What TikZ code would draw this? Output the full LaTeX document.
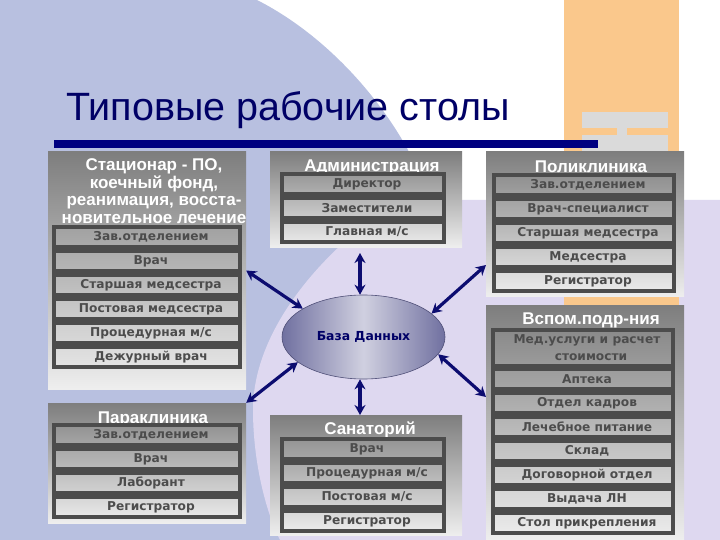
\documentclass[tikz,border=0pt]{standalone}
\usepackage{fontspec}
\usepackage{xcolor}
\usetikzlibrary{arrows.meta,shapes.geometric}
\setmainfont{Liberation Sans}
\newfontfamily\cellfont{DejaVu Sans}
\definecolor{navy}{RGB}{0,0,128}
\definecolor{titleblue}{RGB}{0,0,102}
\definecolor{linkblue}{RGB}{12,12,112}
\definecolor{skyback}{RGB}{184,192,224}
\definecolor{lavback}{RGB}{222,216,240}
\definecolor{orangeback}{RGB}{250,200,140}
\definecolor{squaregray}{RGB}{218,218,218}
\definecolor{framedark}{RGB}{76,76,76}
\definecolor{paneltop}{RGB}{126,126,126}
\definecolor{panelbot}{RGB}{238,238,238}
\definecolor{baseedge}{RGB}{112,112,160}
\definecolor{basemid}{RGB}{208,208,224}
\definecolor{baseline}{RGB}{80,80,120}
\tikzset{
  panelbox/.style={rectangle, inner sep=0pt, top color=paneltop, bottom color=panelbot},
  cellbox/.style={rectangle, draw=framedark, line width=4pt, inner sep=0pt, minimum width=#1, minimum height=20pt,
    text=framedark, font=\cellfont\bfseries\fontsize{12.2}{17}\selectfont, align=center,
    execute at begin node={\hspace*{8pt}}},
  headtext/.style={text=white, inner sep=0pt, align=center, font=\bfseries\fontsize{17}{17.5}\selectfont},
  linkarrow/.style={{Stealth[length=10pt,width=11pt]}-{Stealth[length=10pt,width=11pt]}, line width=3.2pt, draw=linkblue}
}
\begin{document}
\begin{tikzpicture}[x=1pt,y=-1pt]
  \useasboundingbox (0,0) rectangle (720,540);
  % background
  \fill[white] (0,0) rectangle (720,540);
  \fill[skyback] (0,0) -- (257,0) .. controls (320,32) and (375,90) .. (408,150) -- (430,200) -- (430,540) -- (0,540) -- cycle;
  \fill[lavback] (400,200) .. controls (340,236) and (253,320) .. (253,410) .. controls (253,460) and (265,510) .. (280,540) -- (720,540) -- (720,200) -- cycle;
  \fill[orangeback] (564,0) rectangle (679,540);
  \fill[squaregray] (582,112) rectangle (668,152);
  \fill[orangeback] (582,128) rectangle (617,135);
  \fill[orangeback] (627,128) rectangle (668,135);

  \node[text=titleblue, inner sep=0pt, anchor=base west, font=\fontsize{39.5}{42}\selectfont] (heading) at (66,121) {Типовые рабочие столы};
  \fill[navy] (54,140) rectangle (598,148.5);

  % panels
  \node[panelbox, minimum width=198pt, minimum height=237pt] (stac) at (147,270.5) {};
  \node[panelbox, minimum width=192pt, minimum height=95pt] (admin) at (366,199.5) {};
  \node[panelbox, minimum width=198pt, minimum height=144pt] (polik) at (585,224) {};
  \node[panelbox, minimum width=198pt, minimum height=235pt] (vspom) at (585,422.5) {};
  \node[panelbox, minimum width=198pt, minimum height=120pt] (parakl) at (147,463) {};
  \node[panelbox, minimum width=192pt, minimum height=120pt] (sanat) at (366,475) {};

  \node[headtext] (stacTitle) at (154,191) {Стационар - ПО,\\коечный фонд,\\реанимация, восста-\\новительное лечение};
  \node[headtext] (adminTitle) at (372,167) {Администрация};
  \node[headtext] (polikTitle) at (591,167) {Поликлиника};
  \node[headtext] (vspomTitle) at (591,320) {Вспом.подр-ния};
  \node[headtext] (paraklTitle) at (153,419) {Параклиника};
  \node[headtext] (sanatTitle) at (370,430) {Санаторий};

  % stacionar
  \node[cellbox=186pt] (stacA) at (147,237) {Зав.отделением};
  \node[cellbox=186pt] (stacB) at (147,261) {Врач};
  \node[cellbox=186pt] (stacC) at (147,285) {Старшая медсестра};
  \node[cellbox=186pt] (stacD) at (147,309) {Постовая медсестра};
  \node[cellbox=186pt] (stacE) at (147,333) {Процедурная м/с};
  \node[cellbox=186pt] (stacF) at (147,357) {Дежурный врач};

  % administration
  \node[cellbox=162pt] (adminA) at (363,184) {Директор};
  \node[cellbox=162pt] (adminB) at (363,208) {Заместители};
  \node[cellbox=162pt] (adminC) at (363,232) {Главная м/с};

  % polyclinic
  \node[cellbox=180pt] (polikA) at (584,185) {Зав.отделением};
  \node[cellbox=180pt] (polikB) at (584,209) {Врач-специалист};
  \node[cellbox=180pt] (polikC) at (584,233) {Старшая медсестра};
  \node[cellbox=180pt] (polikD) at (584,257) {Медсестра};
  \node[cellbox=180pt] (polikE) at (584,281) {Регистратор};

  % auxiliary units
  \node[cellbox=180pt, minimum height=36pt] (vspomA) at (583,347.5) {Мед.услуги и расчет\\\hspace*{8pt}стоимости};
  \node[cellbox=180pt] (vspomB) at (583,379) {Аптека};
  \node[cellbox=180pt] (vspomC) at (583,403) {Отдел кадров};
  \node[cellbox=180pt] (vspomD) at (583,427) {Лечебное питание};
  \node[cellbox=180pt] (vspomE) at (583,451) {Склад};
  \node[cellbox=180pt] (vspomF) at (583,475) {Договорной отдел};
  \node[cellbox=180pt] (vspomG) at (583,499) {Выдача ЛН};
  \node[cellbox=180pt] (vspomH) at (583,523) {Стол прикрепления};

  % paraclinic
  \node[cellbox=186pt] (paraklA) at (147,435) {Зав.отделением};
  \node[cellbox=186pt] (paraklB) at (147,459) {Врач};
  \node[cellbox=186pt] (paraklC) at (147,483) {Лаборант};
  \node[cellbox=186pt] (paraklD) at (147,507) {Регистратор};

  % sanatorium
  \node[cellbox=162pt] (sanatA) at (363,449) {Врач};
  \node[cellbox=162pt] (sanatB) at (363,473) {Процедурная м/с};
  \node[cellbox=162pt] (sanatC) at (363,497) {Постовая м/с};
  \node[cellbox=162pt] (sanatD) at (363,521) {Регистратор};

  \node[ellipse, draw=baseline, line width=0.6pt, inner sep=0pt, minimum width=163pt, minimum height=84pt,
    left color=baseedge, right color=baseedge, middle color=basemid,
    text=titleblue, font=\cellfont\bfseries\fontsize{12.4}{14}\selectfont] (base) at (363.5,337) {База Данных};

  \coordinate (adminEnd) at (360,253);
  \coordinate (sanatEnd) at (360,415);
  \coordinate (polikEnd) at (486,265);
  \coordinate (vspomEnd) at (486,397);

  \draw[linkarrow] (stac.east) -- (base.155);
  \draw[linkarrow] (adminEnd) -- (adminEnd |- base.north);
  \draw[linkarrow] (polikEnd) -- (base.19.3);
  \draw[linkarrow] (parakl.north east) -- (base.201.5);
  \draw[linkarrow] (sanatEnd) -- (sanatEnd |- base.south);
  \draw[linkarrow] (vspomEnd) -- (base.-13.6);
\end{tikzpicture}
\end{document}
